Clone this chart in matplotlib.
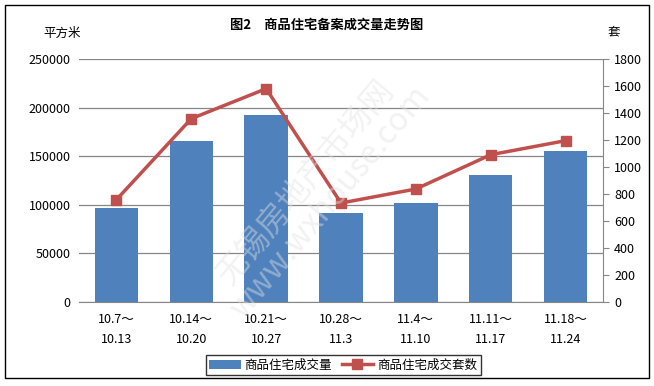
import matplotlib
matplotlib.use('Agg')
import matplotlib.pyplot as plt
import numpy as np

plt.rcParams['font.family'] = ['Noto Sans CJK SC', 'DejaVu Sans']

# weekly periods
weeks = ['10.7～\n10.13', '10.14～\n10.20', '10.21～\n10.27', '10.28～\n11.3',
         '11.4～\n11.10', '11.11～\n11.17', '11.18～\n11.24']
area = [96700, 165200, 192700, 91900, 101900, 131000, 155700]   # 平方米
units = [758, 1358, 1580, 733, 837, 1091, 1195]                 # 套

fig = plt.figure(figsize=(6.54, 3.86), dpi=100)
# outer frame
fig.patches.append(plt.Rectangle((0.008, 0.02), 0.984, 0.968, transform=fig.transFigure,
                                 fill=False, edgecolor='black', linewidth=1.0))

ax = fig.add_axes([79 / 654, 1 - 302 / 386, (603 - 79) / 654, (302 - 59) / 386])
x = np.arange(len(weeks))
ax.bar(x, area, width=0.58, color='#4F81BD', zorder=2, label='商品住宅成交量')
ax.set_xlim(-0.5, len(weeks) - 0.5)
ax.set_ylim(0, 250000)
ax.set_yticks(np.arange(0, 250001, 50000))
ax.yaxis.grid(True, color='#868686', linewidth=0.9)
ax.set_axisbelow(True)
for s in ['top', 'right', 'left']:
    ax.spines[s].set_visible(False)
ax.spines['bottom'].set_color('#868686')
ax.tick_params(axis='y', length=0, labelsize=9, pad=6)
ax.tick_params(axis='x', length=0, labelsize=9, pad=8)
ax.set_xticks(x)
ax.set_xticklabels(weeks, linespacing=1.7)

ax2 = ax.twinx()
ax2.plot(x, units, color='#C0504D', linewidth=2.5, marker='s', markersize=7,
         zorder=3, label='商品住宅成交套数')
ax2.set_ylim(0, 1800)
ax2.set_yticks(np.arange(0, 1801, 200))
for s in ['top', 'left', 'bottom']:
    ax2.spines[s].set_visible(False)
ax2.spines['right'].set_color('#868686')
ax2.tick_params(axis='y', length=4, color='#868686', labelsize=9, pad=4)

fig.text(0.5, 1 - 25 / 386, '图2\u3000商品住宅备案成交量走势图', ha='center', va='center',
         fontsize=9.5, fontweight='bold')
fig.text(62 / 654, 1 - 33 / 386, '平方米', ha='center', va='center', fontsize=9)
fig.text(614 / 654, 1 - 32 / 386, '套', ha='center', va='center', fontsize=9)

# faint watermark
fig.text(318 / 654, 1 - 192 / 386, '无锡房地产市场网\nwww.wxhouse.com', ha='center', va='center',
         rotation=50, fontsize=23, color='#e2e2e2', alpha=0.45, zorder=10,
         linespacing=1.0, multialignment='center')

h1, l1 = ax.get_legend_handles_labels()
h2, l2 = ax2.get_legend_handles_labels()
fig.legend(h1 + h2, l1 + l2, loc='center', bbox_to_anchor=(343 / 654, 1 - 365 / 386),
           ncol=2, fontsize=9, frameon=True, fancybox=False, edgecolor='black',
           handlelength=2.5, columnspacing=0.8, handletextpad=0.3, borderpad=0.3)

fig.savefig('out.png', dpi=100)
